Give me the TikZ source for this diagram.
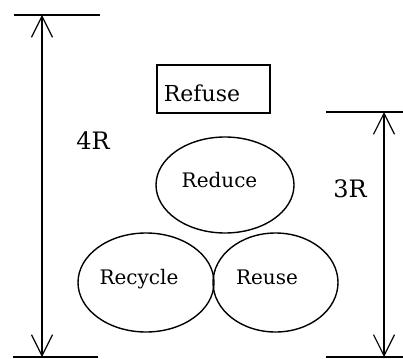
\documentclass[tikz,border=0pt]{standalone}
\usepackage{fontspec}
\setmainfont{DejaVu Serif}
\usetikzlibrary{arrows.meta,shapes.geometric}
\begin{document}
\begin{tikzpicture}[x=1pt,y=-1pt,line width=1.2pt,
  bar/.style={line width=1.3pt},
  dim/.style={<->,>={Straight Barb[length=21pt,width=21pt]}},
  ring/.style={draw,ellipse,inner sep=0pt,line width=1.4pt},
  word/.style={anchor=base,inner sep=0pt,font=\fontsize{20}{24}\selectfont},
  dimlabel/.style={anchor=base,inner sep=0pt,font=\fontsize{24}{28}\selectfont}]
\useasboundingbox (0,0) rectangle (403,358);

% 4R dimension on the left
\coordinate (la) at (14,15);
\coordinate (lb) at (100,15);
\coordinate (lc) at (13,357);
\coordinate (ld) at (98,357);
\coordinate (ltop) at (42,15);
\coordinate (lbot) at (42,357);
\draw[bar] (la) -- (lb);
\draw[bar] (lc) -- (ld);
\draw[dim] (ltop) -- (lbot);
\node[dimlabel] (four) at (93,149) {4R};

% 3R dimension on the right
\coordinate (ra) at (326,112);
\coordinate (rb) at (403,112);
\coordinate (rc) at (326,357);
\coordinate (rd) at (403,357);
\coordinate (rtop) at (384,112);
\coordinate (rbot) at (384,357);
\draw[bar] (ra) -- (rb);
\draw[bar] (rc) -- (rd);
\draw[dim] (rtop) -- (rbot);
\node[dimlabel] (three) at (350,197) {3R};

% Refuse box
\node[draw,line width=1.3pt,minimum width=113pt,minimum height=48pt,inner sep=0pt] (refusebox) at (213.5,89) {};
\node[word,font=\fontsize{22}{26}\selectfont] (refuse) at (202,102) {Refuse};

% the three ellipses
\node[ring,minimum width=138pt,minimum height=96pt] (reduce) at (225,185) {};
\node[ring,minimum width=136pt,minimum height=99pt] (recycle) at (146,282.5) {};
\node[ring,minimum width=125pt,minimum height=99pt] (reuse) at (275.5,282.5) {};
\node[word] (reducetext) at (219.5,187) {Reduce};
\node[word] (recycletext) at (139,284) {Recycle};
\node[word] (reusetext) at (267,284) {Reuse};
\end{tikzpicture}
\end{document}
